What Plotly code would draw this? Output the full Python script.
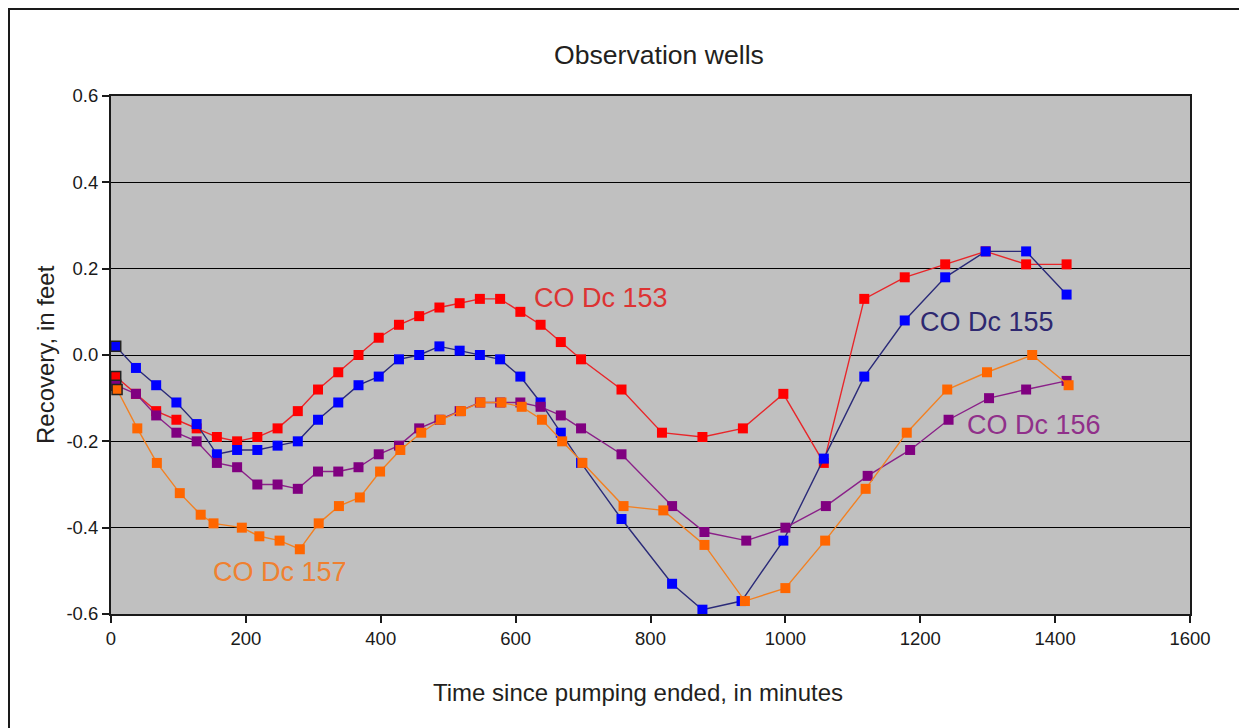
import plotly.graph_objects as go

# ---------------- data ----------------
t_153 = [7, 37, 67, 97, 127, 157, 187, 217, 247, 277, 307, 337, 367, 397, 427, 457, 487, 517,
         547, 577, 607, 637, 667, 697, 757, 817, 877, 937, 997, 1057, 1117, 1177, 1237, 1297, 1357, 1417]
rec_153 = [-0.05, -0.09, -0.13, -0.15, -0.17, -0.19, -0.20, -0.19, -0.17, -0.13, -0.08, -0.04, 0.00,
           0.04, 0.07, 0.09, 0.11, 0.12, 0.13, 0.13, 0.10, 0.07, 0.03, -0.01, -0.08, -0.18, -0.19,
           -0.17, -0.09, -0.25, 0.13, 0.18, 0.21, 0.24, 0.21, 0.21]

t_155 = [7, 37, 67, 97, 127, 157, 187, 217, 247, 277, 307, 337, 367, 397, 427, 457, 487, 517,
         547, 577, 607, 637, 667, 697, 757, 832, 877, 935, 997, 1057, 1117, 1177, 1237, 1297, 1357, 1417]
rec_155 = [0.02, -0.03, -0.07, -0.11, -0.16, -0.23, -0.22, -0.22, -0.21, -0.20, -0.15, -0.11, -0.07,
           -0.05, -0.01, 0.00, 0.02, 0.01, 0.00, -0.01, -0.05, -0.11, -0.18, -0.25, -0.38, -0.53,
           -0.59, -0.57, -0.43, -0.24, -0.05, 0.08, 0.18, 0.24, 0.24, 0.14]

t_156 = [7, 37, 67, 97, 127, 157, 187, 217, 247, 277, 307, 337, 367, 397, 427, 457, 487, 517,
         547, 577, 607, 637, 667, 697, 757, 832, 880, 942, 1000, 1060, 1122, 1185, 1242, 1302, 1357, 1417]
rec_156 = [-0.07, -0.09, -0.14, -0.18, -0.20, -0.25, -0.26, -0.30, -0.30, -0.31, -0.27, -0.27, -0.26,
           -0.23, -0.21, -0.17, -0.15, -0.13, -0.11, -0.11, -0.11, -0.12, -0.14, -0.17, -0.23, -0.35,
           -0.41, -0.43, -0.40, -0.35, -0.28, -0.22, -0.15, -0.10, -0.08, -0.06]

t_157 = [9, 39, 68, 102, 133, 152, 194, 220, 250, 280, 308, 338, 369, 399, 429, 460, 489, 519,
         548, 579, 609, 639, 669, 699, 760, 819, 880, 940, 1000, 1059, 1119, 1180, 1240, 1299, 1366, 1420]
rec_157 = [-0.08, -0.17, -0.25, -0.32, -0.37, -0.39, -0.40, -0.42, -0.43, -0.45, -0.39, -0.35, -0.33,
           -0.27, -0.22, -0.18, -0.15, -0.13, -0.11, -0.11, -0.12, -0.15, -0.20, -0.25, -0.35, -0.36,
           -0.44, -0.57, -0.54, -0.43, -0.31, -0.18, -0.08, -0.04, 0.00, -0.07]

series_names = ["CO Dc 153", "CO Dc 155", "CO Dc 156", "CO Dc 157"]
x_ticks = [0, 200, 400, 600, 800, 1000, 1200, 1400, 1600]
y_ticks = [-0.6, -0.4, -0.2, 0.0, 0.2, 0.4, 0.6]
y_tick_text = ["-0.6", "-0.4", "-0.2", "0.0", "0.2", "0.4", "0.6"]

# label anchor positions (data coords, left-anchored)
label_t = [625, 1196, 1266, 148]
label_y = [0.132, 0.076, -0.163, -0.503]

# ---------------- style ----------------
FONT = "Liberation Sans, Arial, Helvetica, sans-serif"
marker_colors = ["#ff0000", "#0000ff", "#800080", "#ff6600"]
line_colors = ["#e8262a", "#2a2a78", "#8a2088", "#f28022"]
label_colors = ["#dd3333", "#2e2870", "#90308a", "#f08030"]

# page body has an 8px margin: the figure is laid out in window pixels minus this offset
OFF = 8
W, H = 1247 - OFF, 728 - OFF
PL, PR, PT, PB = 111, 1190, 96, 614  # plot area in window pixels


def px(xp):
    return (xp - PL) / (PR - PL)


def py(yp):
    return (PB - yp) / (PB - PT)


fig = go.Figure()
data = [(t_153, rec_153), (t_155, rec_155), (t_156, rec_156), (t_157, rec_157)]
for i, (tt, yy) in enumerate(data):
    widths = [1.5] + [0] * (len(tt) - 1)
    fig.add_trace(go.Scatter(
        x=tt, y=yy, name=series_names[i], mode="lines+markers",
        line=dict(color=line_colors[i], width=1.4),
        marker=dict(symbol="square", size=10, color=marker_colors[i],
                    line=dict(color="#222222", width=widths)),
        showlegend=False,
    ))

for i, name in enumerate(series_names):
    fig.add_annotation(x=label_t[i], y=label_y[i], xref="x", yref="y", text=name,
                       showarrow=False, xanchor="left", yanchor="middle",
                       font=dict(family=FONT, size=27, color=label_colors[i]))

# title & axis titles
fig.add_annotation(x=px(658.5), y=py(55), xref="paper", yref="paper",
                   text="Observation wells", showarrow=False, xanchor="center", yanchor="middle",
                   font=dict(family=FONT, size=26.6, color="#231f20"))
fig.add_annotation(x=px(638), y=py(692), xref="paper", yref="paper",
                   text="Time since pumping ended, in minutes", showarrow=False,
                   xanchor="center", yanchor="middle",
                   font=dict(family=FONT, size=24, color="#231f20"))
fig.add_annotation(x=px(45), y=py(355), xref="paper", yref="paper",
                   text="Recovery, in feet", showarrow=False, textangle=-90,
                   xanchor="center", yanchor="middle",
                   font=dict(family=FONT, size=24, color="#231f20"))

# outer frame lines
fig.add_shape(type="line", xref="paper", yref="paper", x0=px(9), x1=px(9), y0=py(9), y1=py(760),
              line=dict(color="#1a1a1a", width=2))
fig.add_shape(type="line", xref="paper", yref="paper", x0=px(8), x1=px(1260), y0=py(9), y1=py(9),
              line=dict(color="#1a1a1a", width=2))
fig.add_shape(type="line", xref="paper", yref="paper", x0=px(1246), x1=px(1246), y0=py(9), y1=py(760),
              line=dict(color="#d8d8d8", width=1))

fig.update_xaxes(range=[0, 1600], tickvals=x_ticks, ticks="outside", ticklen=7, tickwidth=1.5,
                 tickcolor="#1a1a1a", showline=True, linecolor="#1a1a1a", linewidth=2, mirror=True,
                 showgrid=False, zeroline=False,
                 tickfont=dict(family=FONT, size=18.5, color="#1a1a1a"))
fig.update_yaxes(range=[-0.6, 0.6], tickvals=y_ticks, ticktext=y_tick_text, ticks="outside",
                 ticklen=7, tickwidth=1.5, tickcolor="#1a1a1a", showline=True, linecolor="#1a1a1a",
                 linewidth=2, mirror=True, showgrid=True, gridcolor="#000000", gridwidth=1.2,
                 zeroline=False, tickfont=dict(family=FONT, size=18.5, color="#1a1a1a"))

fig.update_layout(
    width=W, height=H,
    margin=dict(l=PL - OFF, r=W - (PR - OFF), t=PT - OFF, b=H - (PB - OFF), autoexpand=False),
    plot_bgcolor="#c0c0c0", paper_bgcolor="#ffffff",
    font=dict(family=FONT),
)

fig.write_html("out.html")
